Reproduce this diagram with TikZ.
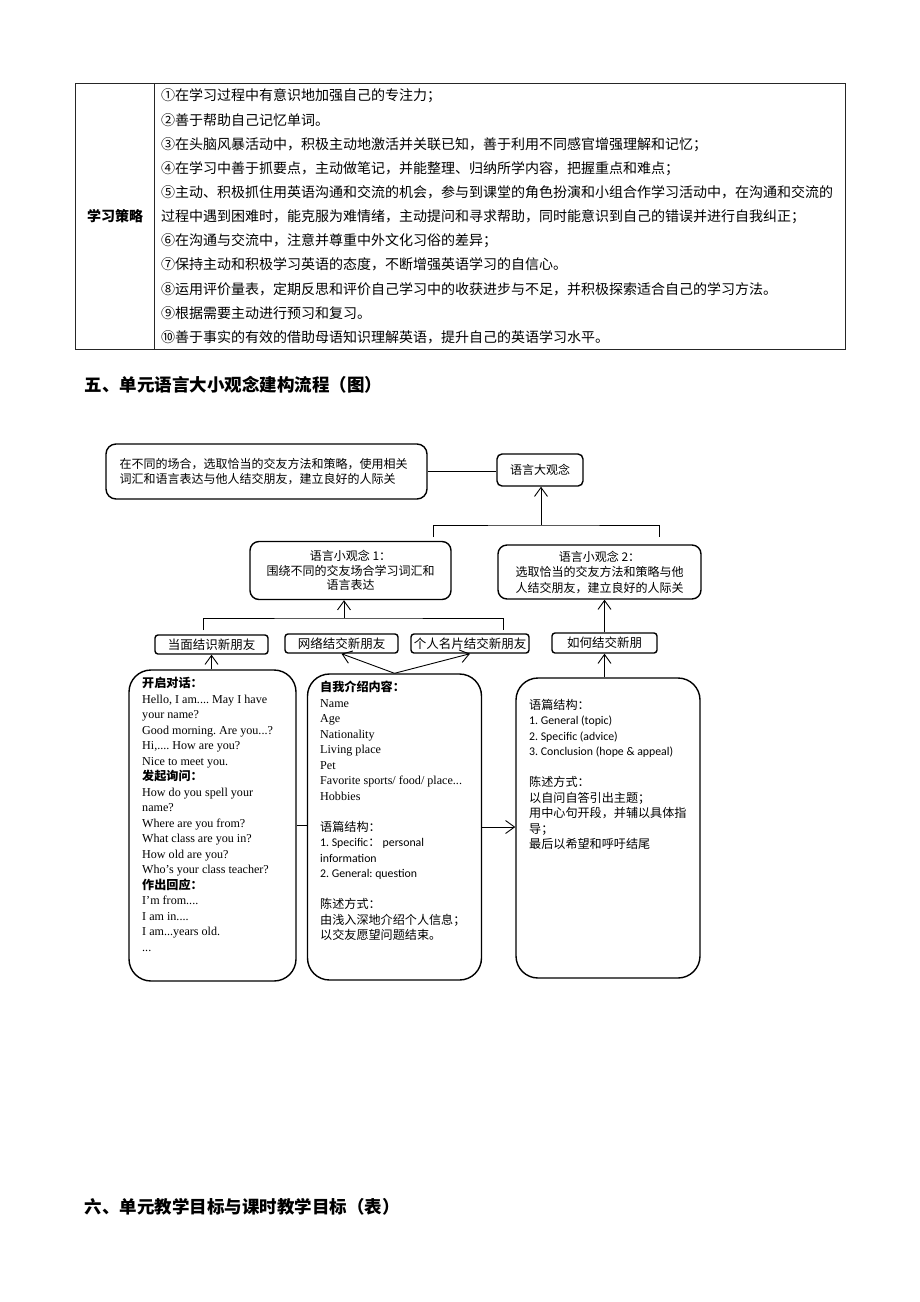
\documentclass[tikz,border=0pt]{standalone}
\usepackage{fontspec}
\setmainfont{Liberation Serif}
\newfontfamily\cjk{Noto Sans CJK SC}
\newfontfamily\calibri{Carlito}
\frenchspacing
\usetikzlibrary{arrows.meta}
\tikzset{
  box/.style={draw, line width=1.4pt, rounded corners=#1, inner sep=0pt},
  box/.default=9pt,
  link/.style={line width=0.9pt},
  up/.style={link, -{Straight Barb[length=9pt,width=13pt]}},
  txt/.style={font=\cjk\fontsize{12}{15.5}\selectfont},
  tag/.style={box=3pt, minimum height=19pt, font=\cjk\fontsize{12.5}{14}\selectfont},
  list/.style={anchor=north west, inner sep=0pt, align=left, font=\fontsize{12.1}{15.5}\selectfont},
  tbl/.style={anchor=west, inner sep=0pt, font=\cjk\fontsize{14}{18}\selectfont},
}
\newcommand{\zh}[1]{{\cjk #1}}
\newcommand{\zhb}[1]{{\cjk\bfseries #1}}
\newcommand{\en}[1]{{\calibri\fontsize{11.8}{15.5}\selectfont #1}}

\begin{document}
\begin{tikzpicture}[x=1pt,y=-1pt]
\useasboundingbox (0,0) rectangle (920,1302);
%% table
\draw[line width=0.8pt, black!85] (75,83) rectangle (845,349);
\draw[line width=0.8pt, black!85] (154,83) -- (154,349);
\node[font=\cjk\bfseries\fontsize{14}{16}\selectfont] (tblHead) at (115,216) {学习策略};
\foreach \t [count=\i from 0] in {①在学习过程中有意识地加强自己的专注力；,
  ②善于帮助自己记忆单词。,
  ③在头脑风暴活动中，积极主动地激活并关联已知，善于利用不同感官增强理解和记忆；,
  ④在学习中善于抓要点，主动做笔记，并能整理、归纳所学内容，把握重点和难点；,
  ⑤主动、积极抓住用英语沟通和交流的机会，参与到课堂的角色扮演和小组合作学习活动中，在沟通和交流的,
  过程中遇到困难时，能克服为难情绪，主动提问和寻求帮助，同时能意识到自己的错误并进行自我纠正；,
  ⑥在沟通与交流中，注意并尊重中外文化习俗的差异；,
  ⑦保持主动和积极学习英语的态度，不断增强英语学习的自信心。,
  ⑧运用评价量表，定期反思和评价自己学习中的收获进步与不足，并积极探索适合自己的学习方法。,
  ⑨根据需要主动进行预习和复习。,
  ⑩善于事实的有效的借助母语知识理解英语，提升自己的英语学习水平。}
  \node[tbl] (line\i) at (161,96+24.1*\i) {\t};

%% headings
\node[anchor=west, font=\cjk\bfseries\fontsize{17.5}{20}\selectfont] (secFive) at (81,385) {五、单元语言大小观念建构流程（图）};
\node[anchor=west, font=\cjk\bfseries\fontsize{17.5}{20}\selectfont] (secSix) at (81,1207) {六、单元教学目标与课时教学目标（表）};

%% big idea
\node[box=10pt, minimum width=321pt, minimum height=55pt, text width=294pt, align=left, txt] (bigText) at (266.5,471.5)
  {在不同的场合，选取恰当的交友方法和策略，使用相关\\词汇和语言表达与他人结交朋友，建立良好的人际关};
\node[box=5pt, minimum width=86pt, minimum height=32pt, txt] (bigIdea) at (540,470) {语言大观念};
\draw[link] (bigText.east) -- (bigText.east -| bigIdea.west);

%% small ideas
\node[box, minimum width=201pt, minimum height=58pt, align=center, txt, font=\cjk\fontsize{12}{14.5}\selectfont] (small1) at (350.5,570.5)
  {语言小观念 1：\\围绕不同的交友场合学习词汇和\\语言表达};
\node[box, minimum width=203pt, minimum height=54pt, align=center, txt] (small2) at (599.5,572)
  {语言小观念 2：\\选取恰当的交友方法和策略与他\\人结交朋友，建立良好的人际关};
\coordinate (topMid) at (541,525);
\coordinate (topL) at (433,537);
\coordinate (topR) at (659,537);
\draw[link] (topL) |- (topMid) -| (topR);
\draw[up] (topMid) -- (topMid |- bigIdea.south);

%% topics
\node[tag, minimum width=113pt] (meet) at (211.5,644.5) {当面结识新朋友};
\node[tag, minimum width=113pt] (online) at (341.5,643.5) {网络结交新朋友};
\node[tag, minimum width=118pt] (card) at (470,643.5) {个人名片结交新朋友};
\node[tag, minimum width=105pt, minimum height=20pt] (howTo) at (604.5,643) {如何结交新朋};
\coordinate (subMid) at (344,618);
\coordinate (subL) at (203,630);
\coordinate (subR) at (503,630);
\draw[link] (subL) |- (subMid) -| (subR);
\draw[up] (subMid) -- (subMid |- small1.south);
\draw[up] (howTo.north) -- (howTo.north |- small2.south);

%% detail boxes
\node[box=22pt, minimum width=167pt, minimum height=311pt] (talk) at (212.5,825.5) {};
\node[box=22pt, minimum width=174pt, minimum height=306pt] (intro) at (394.5,827) {};
\node[box=22pt, minimum width=184pt, minimum height=300pt] (how) at (608,828) {};

\node[list] (talkText) at (142,677) {\zhb{开启对话：}\\
Hello, I am.... May I have\\ your name?\\ Good morning. Are you...?\\
Hi,.... How are you?\\ Nice to meet you.\\ \zhb{发起询问：}\\
How do you spell your\\ name?\\ Where are you from?\\ What class are you in?\\
How old are you?\\ Who's your class teacher?\\ \zhb{作出回应：}\\
I'm from....\\ I am in....\\ I am...years old.\\ ...};

\node[list] (introText) at (320,681) {\zhb{自我介绍内容：}\\
Name\\ Age\\ Nationality\\ Living place\\ Pet\\ Favorite sports/ food/ place...\\ Hobbies\\[15.5pt]
\zh{语篇结构：}\\
\en{1. Specific\zh{：}\ personal}\\ \en{information}\\ \en{2. General: question}\\[15.5pt]
\zh{陈述方式：}\\ \zh{由浅入深地介绍个人信息；}\\ \zh{以交友愿望问题结束。}};

\node[list] (howText) at (529,699) {\zh{语篇结构：}\\
\en{1. General (topic)}\\ \en{2. Specific (advice)}\\ \en{3. Conclusion (hope \& appeal)}\\[15.5pt]
\zh{陈述方式：}\\ \zh{以自问自答引出主题；}\\ \zh{用中心句开段，并辅以具体指}\\ \zh{导；}\\ \zh{最后以希望和呼吁结尾}};

%% links between boxes
\draw[up] (meet.south |- talk.north) -- (meet.south);
\draw[up] (intro.north) -- (online.south);
\draw[up] (intro.north) -- (card.south);
\draw[up] (howTo.south |- how.north) -- (howTo.south);
\draw[link] (talk.east) -- (talk.east -| intro.west);
\draw[up] (intro.east) -- (intro.east -| how.west);
\end{tikzpicture}
\end{document}
